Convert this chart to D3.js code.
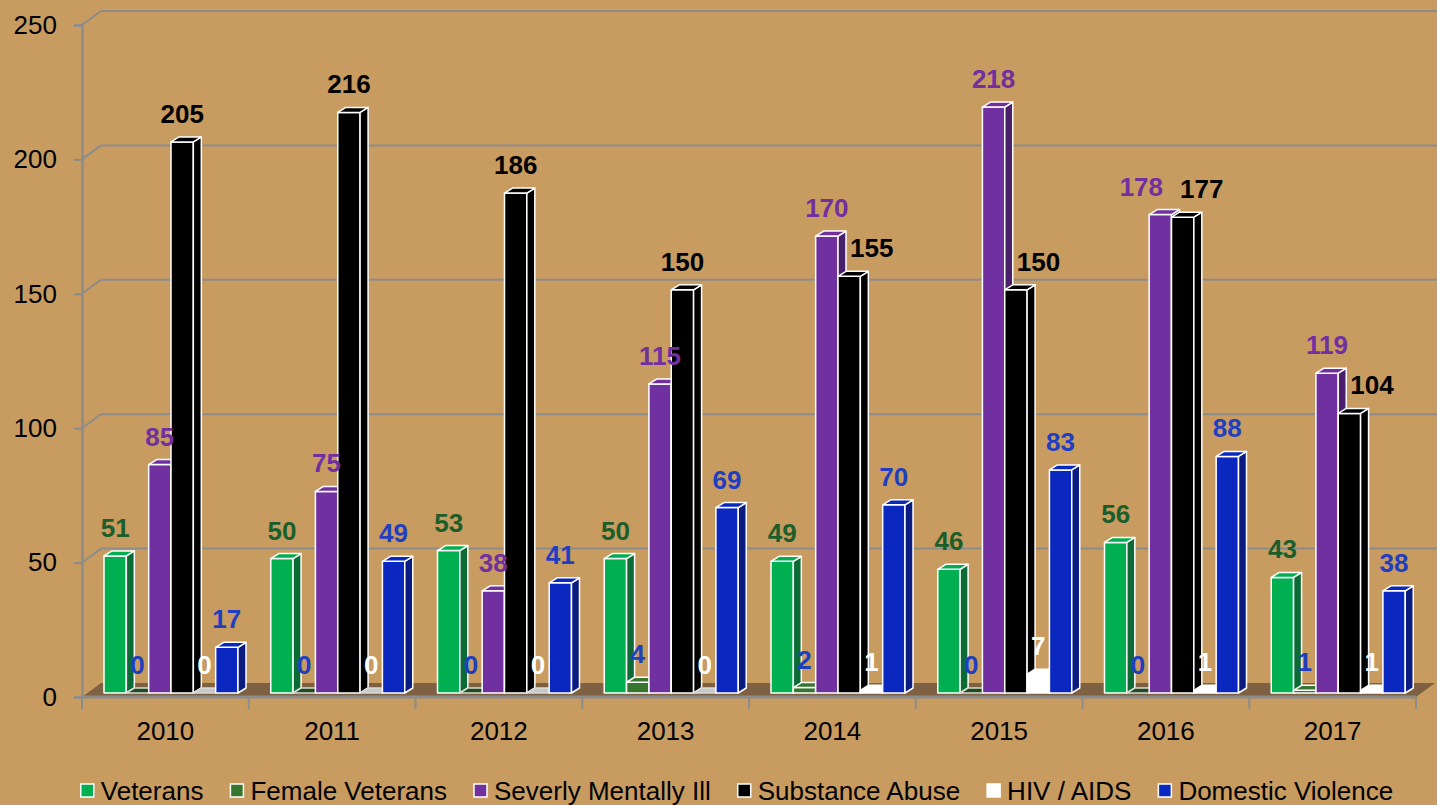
<!DOCTYPE html>
<html>
<head>
<meta charset="utf-8">
<script src="https://cdn.jsdelivr.net/npm/d3@7"></script>
<style>
  html, body { margin: 0; padding: 0; background: #C89B60; }
  text { font-family: "Liberation Sans", Arial, sans-serif; }
</style>
</head>
<body>
<div id="chart"></div>
<script>
// the data
const years = ["2010", "2011", "2012", "2013", "2014", "2015", "2016", "2017"];
const seriesNames = ["Veterans", "Female Veterans", "Severly Mentally Ill", "Substance Abuse", "HIV / AIDS", "Domestic Violence"];
const veterans = [51, 50, 53, 50, 49, 46, 56, 43];
const femaleVeterans = [0, 0, 0, 4, 2, 0, 0, 1];
const mentallyIll = [85, 75, 38, 115, 170, 218, 178, 119];
const substanceAbuse = [205, 216, 186, 150, 155, 150, 177, 104];
const hivAids = [0, 0, 0, 0, 1, 7, 1, 1];
const domesticViolence = [17, 49, 41, 69, 70, 83, 88, 38];
const yTicks = [0, 50, 100, 150, 200, 250];

// colours: front face, side face, label
const fronts = ["#00B050", "#37762E", "#7030A0", "#000000", "#FFFFFF", "#0A28C0"];
const sides = ["#0C6A35", "#1F4A1A", "#4A1F6C", "#000000", "#C8C8C8", "#0A1B82"];
const labelColors = ["#1B5E2C", "#1F3FC0", "#7030A0", "#000000", "#FFFFFF", "#1F3FC0"];

const allValues = [veterans, femaleVeterans, mentallyIll, substanceAbuse, hivAids, domesticViolence];

const W = 1437, H = 805;
const depth = { dx: 19, dy: -14 };   // back wall offset
const barDepth = { dx: 8, dy: -5 };  // column depth
const labelSize = 26;

const svg = d3.select("#chart")
  .append("svg")
    .attr("width", W)
    .attr("height", H);

const x = d3.scaleBand().domain(years).range([82, 1416]);
const xs = d3.scaleBand().domain(seriesNames).range([22, 22 + 134]);
const y = d3.scaleLinear().domain([0, 250]).range([697, 25]);

const grey = "#8C8C8C";

// floor
svg.append("polygon")
  .attr("points", [
    [82, y(0)], [1416, y(0)], [1416 + depth.dx, y(0) + depth.dy], [82 + depth.dx, y(0) + depth.dy]
  ].map(p => p.join(",")).join(" "))
  .attr("fill", "#7E6142");

// back wall gridlines + left wall diagonals
const grid = svg.append("g");
yTicks.filter(t => t > 0).forEach(t => {
  grid.append("line")
    .attr("x1", 82 + depth.dx).attr("x2", W)
    .attr("y1", y(t) + depth.dy).attr("y2", y(t) + depth.dy)
    .attr("stroke", grey).attr("stroke-width", 2);
  grid.append("line")
    .attr("x1", 82).attr("x2", 82 + depth.dx)
    .attr("y1", y(t)).attr("y2", y(t) + depth.dy)
    .attr("stroke", grey).attr("stroke-width", 2);
});

// y axis
const yAxis = svg.append("g")
  .attr("transform", "translate(82,0)")
  .call(d3.axisLeft(y).tickValues(yTicks).tickSize(8).tickPadding(17));
yAxis.select(".domain").attr("stroke", grey).attr("stroke-width", 2.5);
yAxis.selectAll(".tick line").attr("stroke", grey).attr("stroke-width", 2);
yAxis.selectAll("text")
  .attr("font-size", 26).attr("fill", "#000")
  .style("font-family", "'Liberation Sans', Arial, sans-serif");

// x axis line and boundary ticks
svg.append("line")
  .attr("x1", 82).attr("x2", 1416)
  .attr("y1", y(0)).attr("y2", y(0))
  .attr("stroke", grey).attr("stroke-width", 3);
const bounds = years.map(d => x(d)).concat([x(years[years.length - 1]) + x.bandwidth()]);
svg.append("g").selectAll("line")
  .data(bounds)
  .join("line")
    .attr("x1", d => d).attr("x2", d => d)
    .attr("y1", y(0)).attr("y2", y(0) + 12)
    .attr("stroke", grey).attr("stroke-width", 2);

const xAxis = svg.append("g")
  .attr("transform", `translate(0,${y(0)})`)
  .call(d3.axisBottom(x).tickSize(0).tickPadding(24.5));
xAxis.select(".domain").remove();
xAxis.selectAll("text")
  .attr("font-size", 26).attr("fill", "#000")
  .style("font-family", "'Liberation Sans', Arial, sans-serif");

// the columns, drawn left to right so each front covers the previous side
const rows = [];
years.forEach((yr, i) => {
  seriesNames.forEach((s, j) => {
    rows.push({ year: yr, series: s, idx: j, value: allValues[j][i] });
  });
});

const pts = arr => arr.map(p => p.join(",")).join(" ");
const bars = svg.append("g");
rows.forEach(d => {
  const x0 = x(d.year) + xs(d.series);
  const w = xs.bandwidth();
  const yb = y(0) - 4;
  const yt = y(d.value) - 4;
  const g = bars.append("g")
    .attr("stroke", "#FFFFFF")
    .attr("stroke-width", 1.5)
    .attr("stroke-linejoin", "round");
  if (d.value > 0) {
    g.append("rect")
      .attr("x", x0).attr("y", yt)
      .attr("width", w).attr("height", yb - yt)
      .attr("fill", fronts[d.idx]);
    g.append("polygon")
      .attr("points", pts([[x0 + w, yt], [x0 + w + barDepth.dx, yt + barDepth.dy], [x0 + w + barDepth.dx, yb + barDepth.dy], [x0 + w, yb]]))
      .attr("fill", sides[d.idx]);
  }
  g.append("polygon")
    .attr("points", pts([[x0, yt], [x0 + barDepth.dx, yt + barDepth.dy], [x0 + w + barDepth.dx, yt + barDepth.dy], [x0 + w, yt]]))
    .attr("fill", d.value > 0 ? fronts[d.idx] : sides[d.idx])
    .attr("stroke", d.value > 0 ? "#FFFFFF" : "#D8D8D8");
});

// value labels: centred over the column, nudged sideways when they hit a taller neighbour
rows.forEach(d => {
  d.lx = x(d.year) + xs(d.series) + xs.bandwidth() / 2;
  d.ly = y(d.value) - 4 - 19;
  d.half = String(d.value).length * 0.556 * labelSize / 2;
});
years.forEach((yr, i) => {
  const grp = rows.filter(r => r.year === yr);
  for (let j = 1; j < grp.length; j++) {
    const cur = grp[j], prev = grp[j - 1];
    const prevRight = x(yr) + xs(prev.series) + xs.bandwidth();
    if (Math.abs(cur.ly - prev.ly) < labelSize * 0.8 && (cur.lx - cur.half) < (prev.lx + prev.half)) {
      prev.lx -= 19;
      cur.lx += 19;
    } else if (prev.value > cur.value && (cur.lx - cur.half) < prevRight - 5) {
      cur.lx += (prevRight + barDepth.dx + 4) - (cur.lx - cur.half);
    }
  }
});

svg.append("g").selectAll("text")
  .data(rows)
  .join("text")
    .attr("x", d => d.lx)
    .attr("y", d => d.ly)
    .attr("text-anchor", "middle")
    .attr("font-size", labelSize)
    .attr("font-weight", "bold")
    .attr("fill", d => labelColors[d.idx])
    .text(d => d.value);

// legend
const legend = svg.append("g");
let lx = 0;
seriesNames.forEach((s, j) => {
  const item = legend.append("g").attr("transform", `translate(${lx},0)`);
  item.append("rect")
    .attr("x", 0).attr("y", -16)
    .attr("width", 13).attr("height", 13)
    .attr("fill", fronts[j])
    .attr("stroke", "#FFFFFF").attr("stroke-width", 1.5);
  const t = item.append("text")
    .attr("x", 20).attr("y", 0)
    .attr("font-size", 26)
    .attr("fill", "#000")
    .text(s);
  lx += 20 + t.node().getComputedTextLength() + 27;
});
lx -= 27;
legend.attr("transform", `translate(${737 - lx / 2},800)`);
</script>
</body>
</html>
